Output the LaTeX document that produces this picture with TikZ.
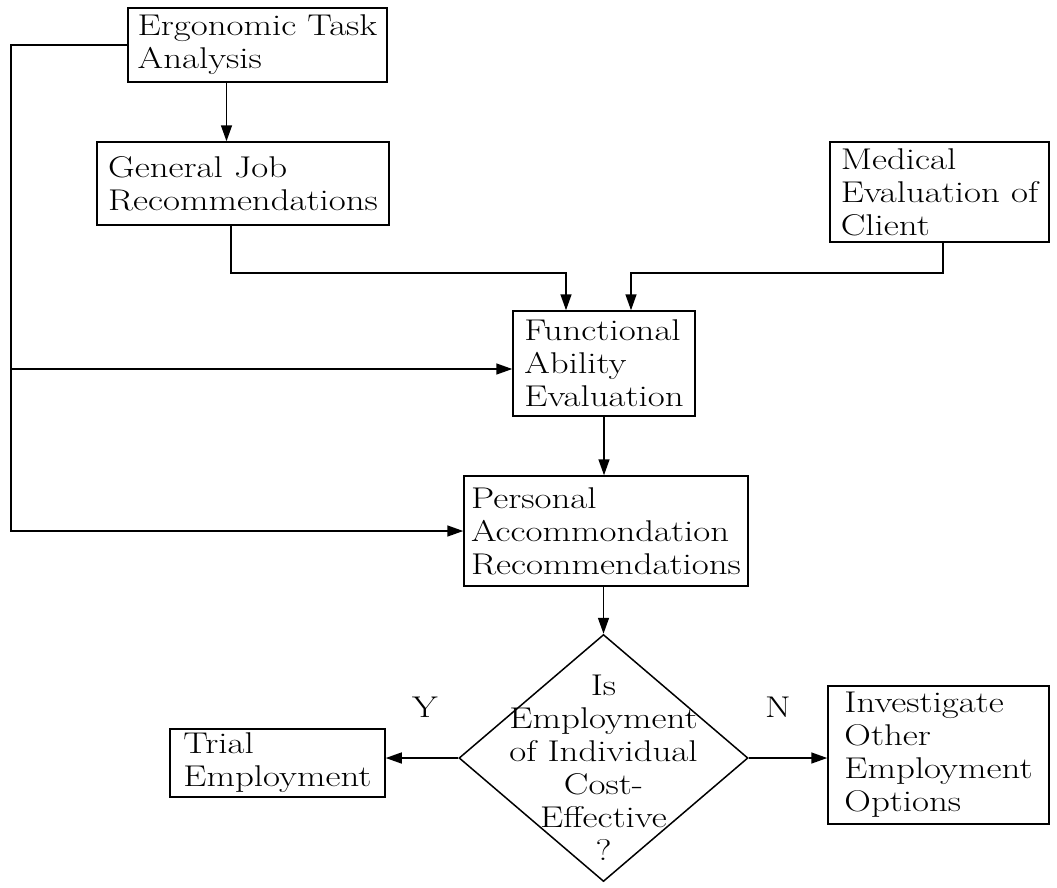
\documentclass[tikz,border=0pt]{standalone}
\usepackage{fontspec}
\setmainfont{Latin Modern Roman}[FakeStretch=1.23]
\usetikzlibrary{arrows.meta,shapes.geometric}
\tikzset{
  box/.style={draw,line width=1.5pt,align=left,inner sep=0pt},
  lbl/.style={font=\fontsize{30}{33}\selectfont}
}
\begin{document}
\begin{tikzpicture}[x=1pt,y=-1pt,line width=1.5pt,>={Triangle[length=16pt,width=11pt]},
    every node/.style={lbl}]
 		\useasboundingbox (0,0) rectangle (1057,887);
 		\node[box,minimum width=259pt,minimum height=74pt] (eta) at (257.5,45) {Ergonomic Task\\Analysis};
 		\node[box,minimum width=292pt,minimum height=83pt] (gjr) at (243,183.5) {General Job\\Recommendations};
 		\node[box,minimum width=219pt,minimum height=100pt] (mec) at (939.5,192) {Medical\\Evaluation of\\Client};
 		\node[box,minimum width=182pt,minimum height=105pt] (fae) at (604,363.5) {Functional\\Ability\\Evaluation};
 		\node[box,minimum width=284pt,minimum height=110pt] (par) at (606,531) {Personal\\Accommondation\\Recommendations};
 		\node[draw,diamond,line width=1.5pt,inner sep=0pt,minimum width=289pt,minimum height=247pt] (dec) at (603.5,758) {};
 		\node[align=center] (dectext) at (603.5,768) {Is\\Employment\\of Individual\\Cost-\\Effective\\?};
 		\node[box,minimum width=215pt,minimum height=68pt] (trial) at (277.5,763) {Trial\\Employment};
 		\node[box,minimum width=221pt,minimum height=138pt] (ioeo) at (938.5,755) {Investigate\\Other\\Employment\\Options};
 		\node (ylab) at (425,707) {Y};
 		\node (nlab) at (778,707) {N};
 		% connectors
 		\coordinate (lbus) at (11,369);
 		\coordinate (jl) at (231,273);
 		\coordinate (jr) at (943,273);
 		\draw[->] ([xshift=-31pt]eta.south) -- ([xshift=-31pt]eta.south |- gjr.north);
 		\draw[->] (gjr.south -| jl) -- (jl) -| ([xshift=-38pt]fae.north);
 		\draw[->] (mec.south -| jr) -- (jr) -| ([xshift=27pt]fae.north);
 		\draw[->] (eta.west) -| (lbus) |- (par.west);
 		\draw[->] (lbus) -- (lbus -| fae.west);
 		\draw[->] (fae.south) -- (fae.south |- par.north);
 		\draw[->] (dec.north |- par.south) -- (dec.north);
 		\foreach \a/\b in {west/trial.east, east/ioeo.west}{%
 		\draw[->] (dec.\a) -- (dec.\a -| \b);
 		}%
\end{tikzpicture}
\end{document}
